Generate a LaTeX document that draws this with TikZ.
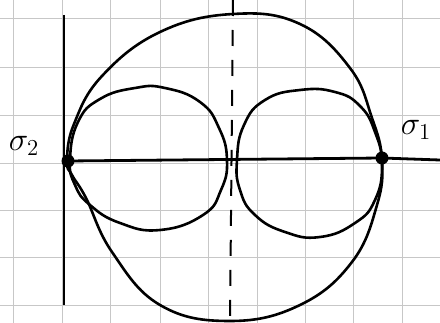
\documentclass[tikz,border=0pt]{standalone}
\begin{document}
\begin{tikzpicture}[x=1pt,y=-1pt,
  gridline/.style={draw=black!22,line width=0.9pt},
  curve/.style={draw=black,line width=2.6pt,line join=round},
  axis/.style={draw=black,line width=2.8pt},
  dot/.style={circle,fill=black,inner sep=0pt,minimum size=13pt},
  lbl/.style={font=\LARGE,scale=1.9}]
\useasboundingbox (0,0) rectangle (440,323);
\fill[white] (0,0) rectangle (440,323);
% grid paper
\foreach \gx in {13,62,110,160,208,257,305,353,402}
  \draw[gridline] (\gx,0) -- (\gx,323);
\foreach \gy in {18,67,115,163,210,257,305}
  \draw[gridline] (0,\gy) -- (440,\gy);
% named points
\node[dot] (s2) at (68,161) {};
\node[dot] (s1) at (382,158) {};
\coordinate (vtop) at (64,15);
\coordinate (vbot) at (64,305);
\coordinate (hend) at (440,160);
\coordinate (dtop) at (233,0);
\coordinate (dbot) at (230,323);
% axes
\draw[axis] (vtop) -- (vbot);
\draw[axis] (s2.center) -- (s1.center) -- (hend);
% dashed symmetry line
\draw[line width=2pt,dash pattern=on 16pt off 14pt] (dtop) -- (dbot);
% outer curve
\draw[curve] plot[smooth cycle,tension=0.7] coordinates {
  (67,161) (74,124) (102,76) (160,32) (233,14) (300,24) (350,68)
  (372,118) (382,160) (377,205) (352,262) (300,305) (230,321)
  (160,305) (112,252) (86,198) (72,175)};
% left inner loop
\draw[curve] plot[smooth cycle,tension=0.8] coordinates {
  (70,160) (78,122) (100,99) (135,88) (165,88) (200,102) (219,128)
  (227,160) (221,190) (203,215) (160,230) (120,223) (90,205) (75,185)};
% right inner loop
\draw[curve] plot[smooth cycle,tension=0.8] coordinates {
  (237,160) (244,125) (265,100) (300,90) (335,92) (360,106) (375,132)
  (382,165) (375,200) (355,223) (320,237) (285,232) (255,215) (240,190)};
% labels
\node[lbl] (l2) at (24,146) {$\sigma_2$};
\node[lbl] (l1) at (416,130) {$\sigma_1$};
\end{tikzpicture}
\end{document}
